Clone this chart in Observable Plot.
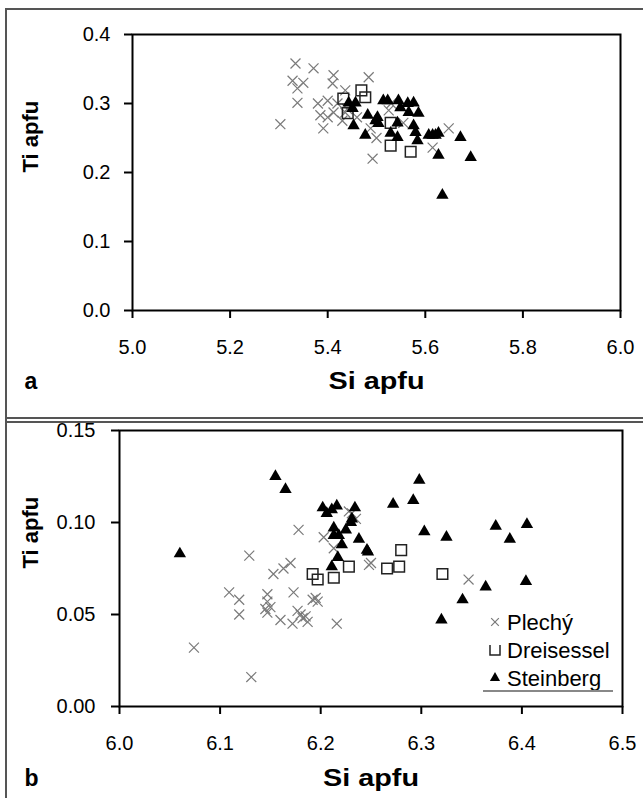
<!DOCTYPE html>
<html><head><meta charset="utf-8">
<script src="https://cdn.jsdelivr.net/npm/d3@7"></script>
<script src="https://cdn.jsdelivr.net/npm/@observablehq/plot@0.6"></script>
<style>
body{margin:0;background:#fff;}
#wrap{position:relative;width:643px;height:798px;font-family:Arial,"Liberation Sans",sans-serif;overflow:hidden;background:#fff}
.ln{position:absolute;background:#555;z-index:5}
.panel{position:absolute;left:0;z-index:1}
#legend{position:absolute;left:0;top:0;z-index:3}
.panel g[aria-label="x-axis tick label"], .panel g[aria-label="y-axis tick label"]{font-size:20px !important;}
</style></head><body><div id="wrap"></div>
<script>
// ---------- data (Si apfu, Ti apfu) ----------
const seriesNames = ["Plechý", "Dreisessel", "Steinberg"];

// panel a
const plechyA = [
  [5.303,0.270],[5.328,0.333],[5.334,0.358],[5.338,0.322],[5.338,0.301],[5.350,0.330],
  [5.371,0.351],[5.385,0.283],[5.391,0.264],[5.400,0.304],[5.410,0.329],[5.412,0.341],
  [5.412,0.287],[5.436,0.319],[5.436,0.287],[5.484,0.338],[5.488,0.264],[5.492,0.220],
  [5.525,0.290],[5.555,0.272],[5.615,0.236],[5.648,0.264],[5.400,0.280],[5.420,0.300],
  [5.440,0.292],[5.460,0.280],[5.500,0.250],[5.530,0.300],[5.430,0.275],[5.380,0.300]
];
const dreisA = [
  [5.432,0.307],[5.469,0.319],[5.477,0.309],[5.441,0.286],[5.529,0.272],[5.529,0.239],[5.570,0.230]
];
const steinA = [
  [5.457,0.301],[5.443,0.301],[5.451,0.293],[5.482,0.283],[5.453,0.268],[5.477,0.254],
  [5.498,0.275],[5.504,0.271],[5.514,0.304],[5.523,0.304],[5.545,0.304],[5.549,0.294],
  [5.564,0.300],[5.576,0.301],[5.566,0.287],[5.586,0.286],[5.543,0.272],[5.529,0.257],
  [5.543,0.251],[5.576,0.268],[5.580,0.258],[5.584,0.246],[5.607,0.254],[5.615,0.254],
  [5.621,0.254],[5.627,0.257],[5.672,0.251],[5.627,0.225],[5.693,0.222],[5.635,0.167],
  [5.502,0.280]
];

// panel b
const plechyB = [
  [6.074,0.032],[6.131,0.016],[6.129,0.082],[6.109,0.062],[6.119,0.058],[6.119,0.050],
  [6.153,0.072],[6.147,0.061],[6.147,0.057],[6.150,0.054],[6.145,0.053],[6.147,0.051],
  [6.160,0.047],[6.170,0.078],[6.173,0.062],[6.178,0.096],[6.172,0.045],[6.180,0.050],
  [6.182,0.048],[6.187,0.046],[6.192,0.058],[6.197,0.057],[6.203,0.092],[6.213,0.086],
  [6.216,0.045],[6.231,0.105],[6.235,0.102],[6.228,0.106],[6.250,0.078],[6.248,0.077],
  [6.195,0.059],[6.347,0.069],[6.177,0.052],[6.185,0.049],[6.163,0.075]
];
const dreisB = [
  [6.192,0.072],[6.197,0.069],[6.213,0.070],[6.228,0.076],[6.266,0.075],[6.278,0.076],
  [6.280,0.085],[6.321,0.072]
];
const steinB = [
  [6.060,0.083],[6.155,0.125],[6.165,0.118],[6.202,0.108],[6.206,0.105],[6.211,0.107],
  [6.216,0.109],[6.234,0.108],[6.231,0.102],[6.230,0.100],[6.213,0.097],[6.213,0.093],
  [6.218,0.093],[6.225,0.096],[6.221,0.088],[6.238,0.091],[6.246,0.085],[6.247,0.084],
  [6.217,0.081],[6.211,0.076],[6.272,0.110],[6.292,0.112],[6.298,0.123],[6.303,0.095],
  [6.325,0.092],[6.374,0.098],[6.388,0.091],[6.405,0.099],[6.364,0.065],[6.404,0.068],
  [6.341,0.058],[6.320,0.047]
];

// ticks
const xTicksA = [5.0, 5.2, 5.4, 5.6, 5.8, 6.0];
const yTicksA = [0.0, 0.1, 0.2, 0.3, 0.4];
const xTicksB = [6.0, 6.1, 6.2, 6.3, 6.4, 6.5];
const yTicksB = [0.00, 0.05, 0.10, 0.15];
const xTitle = "Si apfu", yTitle = "Ti apfu";
const panelLabels = ["a", "b"];

// ---------- drawing ----------
const FONT = "Arial, 'Liberation Sans', sans-serif";
const TICKFONT = 20;
function panel(o) {
  return Plot.plot({
    width: 643, height: o.height,
    marginLeft: o.ml, marginRight: o.mr, marginTop: o.mt, marginBottom: o.mb,
    style: {fontFamily: FONT, fontSize: TICKFONT + "px", color: "#000", background: "transparent", overflow: "visible"},
    x: {domain: o.xDomain},
    y: {domain: o.yDomain},
    marks: [
      Plot.axisX(o.xTicks, {tickSize: 8, tickPadding: 21, tickFormat: d3.format(".1f"), strokeWidth: 2, label: null, fontSize: TICKFONT}),
      Plot.axisY(o.yTicks, {tickSize: 8, tickPadding: o.yPad, tickFormat: d3.format(o.yFmt), strokeWidth: 2, label: null, fontSize: TICKFONT}),
      Plot.frame({stroke: "#000", strokeWidth: 2}),
      Plot.dot(o.p, {x: d => d[0], y: d => d[1], symbol: "times", r: 4.6, stroke: "#7a7a7a", strokeWidth: 1.2}),
      Plot.dot(o.d, {x: d => d[0], y: d => d[1], symbol: "square", r: 6, stroke: "#222", fill: "none", strokeWidth: 1.5}),
      Plot.dot(o.s, {x: d => d[0], y: d => d[1], symbol: "triangle", r: 4.6, fill: "#000", stroke: "none"}),
      Plot.text([xTitle], {frameAnchor: "bottom", dy: o.titleDy, text: d => d, fontWeight: "bold", fontSize: 24}),
      Plot.text([yTitle], {frameAnchor: "left", dx: o.yTitleDx, rotate: -90, text: d => d, fontWeight: "bold", fontSize: 22}),
      Plot.text([o.label], {frameAnchor: "bottom-left", dx: o.labelDx, dy: o.titleDy, text: d => d, fontWeight: "bold", fontSize: 23})
    ]
  });
}

const wrap = document.getElementById("wrap");

const a = panel({height: 420, ml: 132, mr: 23, mt: 34, mb: 110,
  xDomain: [5.0, 6.0], yDomain: [0, 0.4], xTicks: xTicksA, yTicks: yTicksA, yFmt: ".1f", yPad: 14,
  p: plechyA, d: dreisA, s: steinA, titleDy: 78, yTitleDx: -102, labelDx: -108, label: panelLabels[0]});
a.classList.add("panel"); a.style.top = "0px";
wrap.appendChild(a);

const b = panel({height: 378, ml: 119, mr: 21, mt: 10, mb: 92,
  xDomain: [6.0, 6.5], yDomain: [0, 0.15], xTicks: xTicksB, yTicks: yTicksB, yFmt: ".2f", yPad: 16,
  p: plechyB, d: dreisB, s: steinB, titleDy: 79, yTitleDx: -89, labelDx: -95, label: panelLabels[1]});
b.classList.add("panel"); b.style.top = "420px";
wrap.appendChild(b);

// widen the horizontal axis titles as in the reference
for (const svg of [a, b]) {
  d3.select(svg).selectAll("text").each(function() {
    if (this.textContent === xTitle) d3.select(this).attr("textLength", 96).attr("lengthAdjust", "spacingAndGlyphs");
  });
}

// legend (panel b)
const leg = d3.select(wrap).append("svg").attr("id", "legend").attr("width", 643).attr("height", 798);
const legendX = 495, legendY0 = 622, legendStep = 28;
seriesNames.forEach((name, i) => {
  const y = legendY0 + i * legendStep;
  const g = leg.append("g").attr("transform", `translate(${legendX},${y})`);
  if (i === 0) g.append("path").attr("d", d3.symbol(d3.symbolTimes, 40)).attr("stroke", "#7a7a7a").attr("stroke-width", 1.2).attr("fill", "none");
  if (i === 1) g.append("path").attr("d", "M-5,-5V5H5V-5").attr("stroke", "#222").attr("stroke-width", 1.5).attr("fill", "none");
  if (i === 2) g.append("path").attr("d", d3.symbol(d3.symbolTriangle, 45)).attr("fill", "#000");
  leg.append("text").attr("x", legendX + 12).attr("y", y).attr("dy", "0.35em")
    .attr("font-family", FONT).attr("font-size", 22).text(name);
});
leg.append("line").attr("x1", 483).attr("x2", 613).attr("y1", 691).attr("y2", 691).attr("stroke", "#888").attr("stroke-width", 2);

// figure borders
function ln(l, t, w, h) { const e = document.createElement("div"); e.className = "ln"; Object.assign(e.style, {left: l + "px", top: t + "px", width: w + "px", height: h + "px"}); wrap.appendChild(e); }
ln(5, 8, 2, 790);
ln(5, 8, 638, 2);
ln(5, 417, 638, 1.5);
ln(5, 421, 638, 1.5);
</script></body></html>
